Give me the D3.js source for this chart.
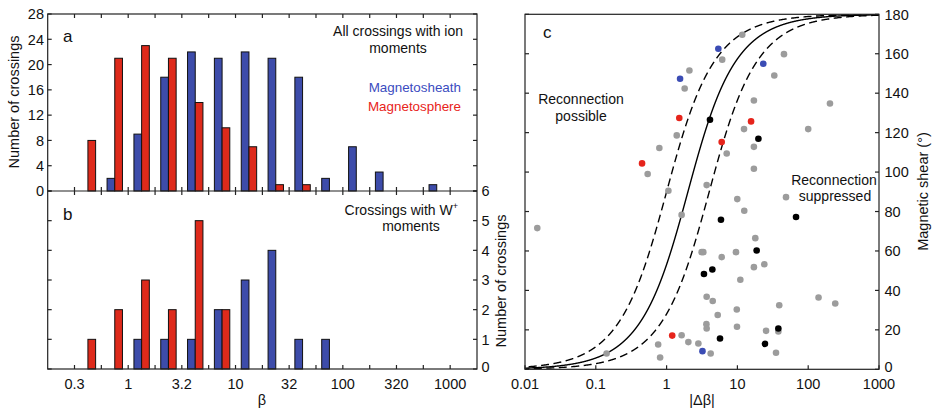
<!DOCTYPE html>
<html><head><meta charset="utf-8">
<script src="https://cdn.jsdelivr.net/npm/d3@7"></script>
<style>
body{margin:0;background:#fff}
text{font-family:"Liberation Sans",Arial,Helvetica,sans-serif;fill:#111}
</style>
</head><body>
<svg id="chart" width="932" height="409"></svg>
<script>
// ---------------- DATA ----------------
// quarter-decade beta bins (edges)
const binEdges = [0.316, 0.562, 1, 1.78, 3.16, 5.62, 10, 17.8, 31.6, 56.2, 100, 178, 316, 562, 1000, 1778];
const betaTickValues = [0.316, 1, 3.16, 10, 31.6, 100, 316, 1000];
const betaTickLabels = ["0.3", "1", "3.2", "10", "32", "100", "320", "1000"];
// panel a: all crossings with ion moments
const sheathAll  = [0, 2, 9, 18, 22, 21, 22, 21, 18, 2, 7, 3, 0, 1, 0];
const sphereAll  = [8, 21, 23, 21, 14, 10, 7, 1, 1, 0, 0, 0, 0, 0, 0];
// panel b: crossings with W+ moments
const sheathW    = [0, 0, 1, 1, 1, 2, 3, 4, 1, 1, 0, 0, 0, 0, 0];
const sphereW    = [1, 2, 3, 2, 5, 2, 0, 0, 0, 0, 0, 0, 0, 0, 0];
const countTicksA = [0, 4, 8, 12, 16, 20, 24, 28];
const countTicksB = [0, 1, 2, 3, 4, 5, 6];
// panel c: |delta beta| vs magnetic shear
const dBetaTicks = [0.01, 0.1, 1, 10, 100, 1000];
const dBetaTickLabels = ["0.01", "0.1", "1", "10", "100", "1000"];
const shearTicks = [0, 20, 40, 60, 80, 100, 120, 140, 160, 180];
const grayPts = [
  [11.7,169.6],[6.1,157],[45.5,159.8],[2.1,151.5],[33.2,149],[1.8,142.4],[17.1,136.3],[203,134.8],
  [12.4,121.8],[100,121.8],[1.39,118.6],[0.79,112.2],[17.1,112.8],[7.06,109.4],[0.54,99],[17.1,101.7],
  [1.06,90.5],[3.68,93.4],[9.96,86.3],[48.6,87.3],[12.5,80.4],[0.0149,71.6],[1.63,78.3],[3.13,59.4],
  [3.3,59.4],[6.0,56.9],[9.55,59.4],[17.9,66.5],[17.1,51.8],[24,53.3],[11,45.4],[3.68,36.8],[4.48,34.6],
  [140,36.4],[241,33.4],[39,32.5],[9.8,30.3],[5.27,27.5],[3.65,22.9],[3.68,20.7],[9.87,21.6],[25.4,19.5],
  [37.9,19.2],[1.63,17.3],[2.03,13.8],[2.81,13.1],[0.76,12.6],[0.81,6.0],[4.19,8.0],[35.1,8.4],[0.142,8.0]
];
const bluePts  = [[5.38,162.5],[1.55,147.3],[23.2,154.9],[3.21,9.2]];
const redPts   = [[1.51,127.4],[15.6,125.7],[6.0,115.2],[0.45,104.4],[1.2,17.1]];
const blackPts = [[4.1,126.5],[19.8,116.9],[5.86,75.8],[67.3,77.2],[18.7,60.2],[4.43,50.6],[3.37,48.3],
  [37.9,20.7],[5.68,15.6],[24.5,12.9]];
// theoretical threshold |dBeta| = factor * tan(shear/2)
const thresholdFactors = [1, 2, 4];
const thresholdStyles = ["dash", "solid", "dash"];

// ---------------- STYLE ----------------
const BLUE = "#3d4caa", RED = "#de2a1b";
const PT_BLUE = "#3b4cb4", PT_RED = "#e6241b", PT_GRAY = "#9c9c9c", PT_BLACK = "#000";
const svg = d3.select("#chart");
const AX = "#222";
const TL = 4;

// ---------------- PANELS a,b ----------------
const xB = d3.scaleLog().domain([Math.pow(10,-0.75), Math.pow(10,3.25)]).range([47.7, 477]);
const yA = d3.scaleLinear().domain([0, 28]).range([191, 14]);
const yB = d3.scaleLinear().domain([0, 6]).range([369, 191]);
const L = xB.range()[0], R = xB.range()[1];
const barW = 7.7;
const bins = binEdges.slice(0, -1).map((e, i) => Math.sqrt(e * binEdges[i + 1]));

function bars(yS, sheath, sphere) {
  const g = svg.append("g");
  bins.forEach((c, i) => {
    const xc = xB(c);
    if (sheath[i] > 0) g.append("rect").attr("x", xc - barW).attr("width", barW)
      .attr("y", yS(sheath[i])).attr("height", yS(0) - yS(sheath[i]))
      .attr("fill", BLUE).attr("stroke", "#111").attr("stroke-width", 1);
    if (sphere[i] > 0) g.append("rect").attr("x", xc).attr("width", barW)
      .attr("y", yS(sphere[i])).attr("height", yS(0) - yS(sphere[i]))
      .attr("fill", RED).attr("stroke", "#111").attr("stroke-width", 1);
  });
}
bars(yA, sheathAll, sphereAll);
bars(yB, sheathW, sphereW);

const qTicks = binEdges.slice(0, -1);
function frameAB() {
  const g = svg.append("g").attr("stroke", AX).attr("stroke-width", 1.2).attr("fill", "none");
  g.append("rect").attr("x", L).attr("y", yA(28)).attr("width", R - L).attr("height", yB(0) - yA(28));
  g.append("line").attr("x1", L).attr("x2", R).attr("y1", yA(0)).attr("y2", yA(0));
  qTicks.forEach(v => {
    const x = xB(v);
    g.append("line").attr("x1", x).attr("x2", x).attr("y1", yA(28)).attr("y2", yA(28) + TL);
    g.append("line").attr("x1", x).attr("x2", x).attr("y1", yA(0) - TL).attr("y2", yA(0) + TL);
    g.append("line").attr("x1", x).attr("x2", x).attr("y1", yB(0)).attr("y2", yB(0) - TL);
  });
  countTicksA.forEach(v => {
    g.append("line").attr("x1", L).attr("x2", L + TL).attr("y1", yA(v)).attr("y2", yA(v));
    g.append("line").attr("x1", R).attr("x2", R - TL).attr("y1", yA(v)).attr("y2", yA(v));
  });
  countTicksB.forEach(v => {
    g.append("line").attr("x1", L).attr("x2", L + TL).attr("y1", yB(v)).attr("y2", yB(v));
    g.append("line").attr("x1", R).attr("x2", R - TL).attr("y1", yB(v)).attr("y2", yB(v));
  });
}
frameAB();

const FS = 14.5;
const XLY = 389;
countTicksA.forEach(v => svg.append("text").attr("x", 44).attr("y", yA(v)).attr("dy", "0.36em")
  .attr("text-anchor", "end").attr("font-size", FS).text(v));
countTicksB.forEach(v => svg.append("text").attr("x", 481.5).attr("y", yB(v)).attr("dy", v === 0 ? "0.2em" : "0.36em")
  .attr("text-anchor", "start").attr("font-size", FS).text(v));
betaTickValues.forEach((v, i) => svg.append("text").attr("x", xB(v)).attr("y", XLY)
  .attr("text-anchor", "middle").attr("font-size", FS).text(betaTickLabels[i]));
svg.append("text").attr("x", 262).attr("y", 405).attr("text-anchor", "middle").attr("font-size", FS).text("β");
svg.append("text").attr("transform", "translate(19,102) rotate(-90)").attr("text-anchor", "middle")
  .attr("font-size", FS).text("Number of crossings");
svg.append("text").attr("transform", "translate(506,281) rotate(-90)").attr("text-anchor", "middle")
  .attr("font-size", FS).text("Number of crossings");

svg.append("text").attr("x", 63).attr("y", 42).attr("font-size", 17).text("a");
svg.append("text").attr("x", 463).attr("y", 36).attr("text-anchor", "end").attr("font-size", 14).text("All crossings with ion");
svg.append("text").attr("x", 398).attr("y", 53).attr("text-anchor", "middle").attr("font-size", 14).text("moments");
svg.append("text").attr("x", 461).attr("y", 92).attr("text-anchor", "end").attr("font-size", 13.4)
  .style("fill", "#3b4cc0").text("Magnetosheath");
svg.append("text").attr("x", 461).attr("y", 111).attr("text-anchor", "end").attr("font-size", 13.4)
  .style("fill", "#e8231a").text("Magnetosphere");
svg.append("text").attr("x", 63).attr("y", 220).attr("font-size", 17).text("b");
const wt = svg.append("text").attr("x", 458).attr("y", 215).attr("text-anchor", "end").attr("font-size", 14);
wt.append("tspan").text("Crossings with W");
wt.append("tspan").attr("font-size", 9).attr("dy", -6).text("+");
svg.append("text").attr("x", 411).attr("y", 231).attr("text-anchor", "middle").attr("font-size", 14).text("moments");

// ---------------- PANEL c ----------------
const xC = d3.scaleLog().domain([0.01, 1000]).range([525, 879]);
const yC = d3.scaleLinear().domain([0, 180]).range([369.3, 14.3]);
svg.append("defs").append("clipPath").attr("id", "clipC").append("rect")
  .attr("x", 525).attr("y", 14.3).attr("width", 354).attr("height", 355);

const shearGrid = d3.range(0.05, 179.999, 0.05);
const gc = svg.append("g").attr("clip-path", "url(#clipC)");
thresholdFactors.forEach((f, i) => {
  const line = d3.line()
    .x(s => xC(Math.max(1e-4, Math.min(1e5, f * Math.tan(s * Math.PI / 360)))))
    .y(s => yC(s));
  gc.append("path").datum(shearGrid).attr("d", line).attr("fill", "none")
    .attr("stroke", "#000").attr("stroke-width", 1.4)
    .attr("stroke-dasharray", thresholdStyles[i] === "dash" ? "8,4.5" : null);
});

function pts(data, color) {
  gc.append("g").selectAll("circle").data(data).join("circle")
    .attr("cx", d => xC(d[0])).attr("cy", d => yC(d[1])).attr("r", 3.3).attr("fill", color);
}
pts(grayPts, PT_GRAY);
pts(bluePts, PT_BLUE);
pts(redPts, PT_RED);
pts(blackPts, PT_BLACK);

const gcf = svg.append("g").attr("stroke", AX).attr("stroke-width", 1.2).attr("fill", "none");
gcf.append("rect").attr("x", 525).attr("y", yC(180)).attr("width", 354).attr("height", yC(0) - yC(180));
dBetaTicks.forEach(v => gcf.append("line").attr("x1", xC(v)).attr("x2", xC(v)).attr("y1", yC(0)).attr("y2", yC(0) - TL));
shearTicks.forEach(v => {
  gcf.append("line").attr("x1", 879).attr("x2", 879 - TL).attr("y1", yC(v)).attr("y2", yC(v));
  gcf.append("line").attr("x1", 525).attr("x2", 525 + TL).attr("y1", yC(v)).attr("y2", yC(v));
});
dBetaTicks.forEach((v, i) => svg.append("text").attr("x", xC(v)).attr("y", XLY).attr("text-anchor", "middle")
  .attr("font-size", FS).text(dBetaTickLabels[i]));
shearTicks.forEach(v => svg.append("text").attr("x", 884.5).attr("y", yC(v)).attr("dy", v === 0 ? "0.2em" : "0.36em")
  .attr("font-size", FS).text(v));
svg.append("text").attr("x", 702).attr("y", 405).attr("text-anchor", "middle").attr("font-size", FS).text("|Δβ|");
svg.append("text").attr("transform", "translate(928,191.5) rotate(-90)").attr("text-anchor", "middle")
  .attr("font-size", FS).text("Magnetic shear (°)");
svg.append("text").attr("x", 543).attr("y", 38).attr("font-size", 17).text("c");
svg.append("text").attr("x", 581).attr("y", 104).attr("text-anchor", "middle").attr("font-size", 14).text("Reconnection");
svg.append("text").attr("x", 581).attr("y", 121).attr("text-anchor", "middle").attr("font-size", 14).text("possible");
svg.append("text").attr("x", 834).attr("y", 185).attr("text-anchor", "middle").attr("font-size", 14).text("Reconnection");
svg.append("text").attr("x", 835).attr("y", 201).attr("text-anchor", "middle").attr("font-size", 14).text("suppressed");
</script>
</body></html>
